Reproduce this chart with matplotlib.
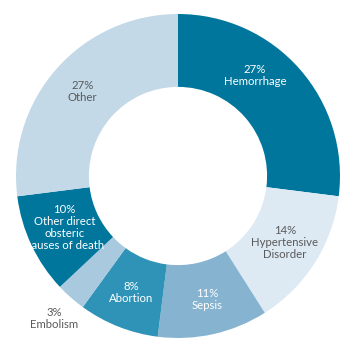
import matplotlib
matplotlib.use("Agg")
import matplotlib.pyplot as plt

labels = ["Hemorrhage", "Hypertensive\nDisorder", "Sepsis", "Abortion",
          "Embolism", "Other direct\nobsteric\ncauses of death", "Other"]
values = [27, 14, 11, 8, 3, 10, 27]
colors = ["#00769c", "#dde9f3", "#85b3d0", "#2f93b8", "#a8c9de", "#00769c", "#c3d9e8"]
text_colors = ["white", "#5a5a5a", "white", "white", "#5a5a5a", "white", "#5a5a5a"]

# label centres in axis units (outer radius = 1)
label_pos = [(0.475, 0.62), (0.66, -0.41), (0.18, -0.765), (-0.29, -0.72),
             (-0.765, -0.877), (-0.70, -0.32), (-0.59, 0.52)]

plt.rcParams["font.family"] = ["Lato", "DejaVu Sans"]

fig = plt.figure(figsize=(3.54, 3.57), dpi=100)
ax = fig.add_axes([0, 0, 1, 1])

ax.pie(values, colors=colors, startangle=90, counterclock=False,
       radius=1.0, wedgeprops=dict(width=0.45, linewidth=0))

for lab, v, tc, (x, y) in zip(labels, values, text_colors, label_pos):
    ax.text(x, y, f"{v}%\n{lab}", ha="center", va="center", color=tc,
            fontsize=8.2, linespacing=1.1)

ax.set_xlim(-178 / 162, 176 / 162)
ax.set_ylim(-181 / 162, 176 / 162)
ax.set_aspect("equal")
ax.axis("off")

fig.savefig("out.png", dpi=100)
